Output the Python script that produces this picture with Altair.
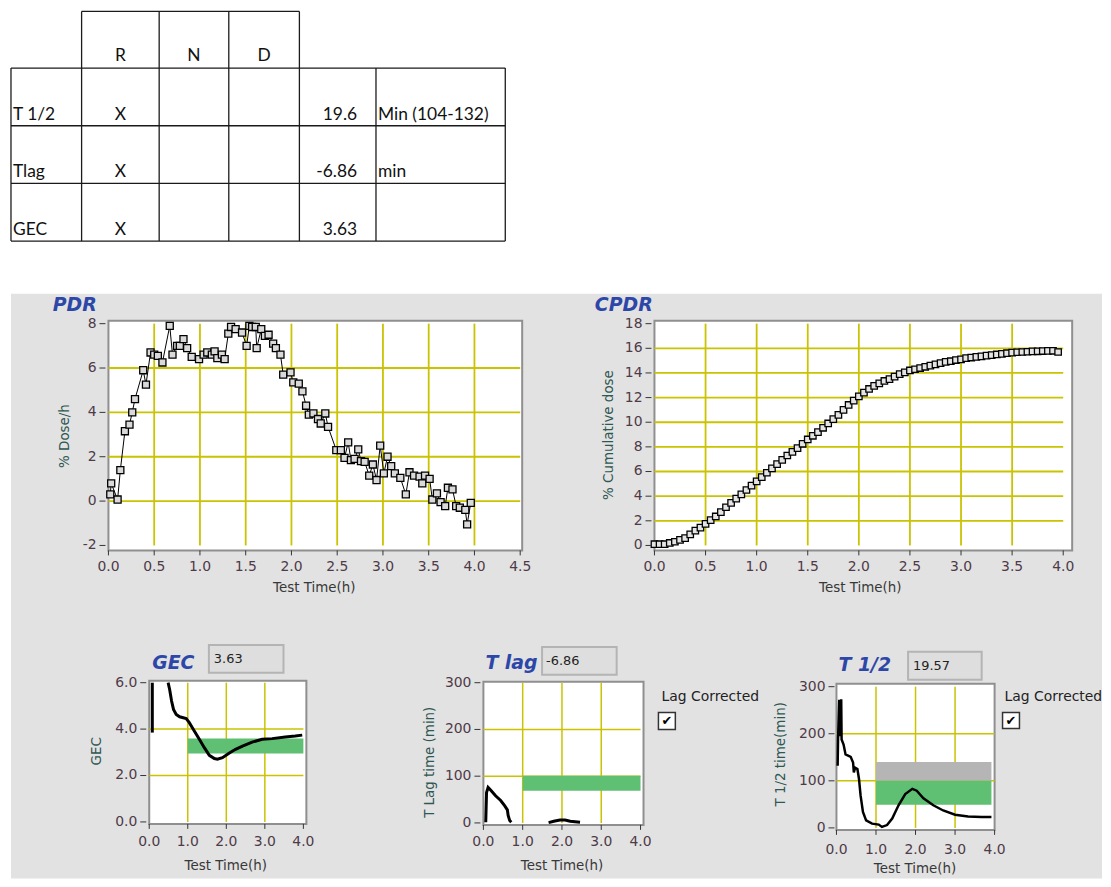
import altair as alt
import pandas as pd

# ---------------- data ----------------
table_cols = ["R", "N", "D"]
table_rows = ["T 1/2", "Tlag", "GEC"]
table_r = ["X", "X", "X"]
table_vals = ["19.6", "-6.86", "3.63"]
table_units = ["Min (104-132)", "min", ""]

pdr_t = [0.02, 0.03, 0.10, 0.13, 0.18, 0.23, 0.26, 0.29, 0.38, 0.41, 0.46, 0.50, 0.54, 0.59, 0.67,
         0.70, 0.75, 0.78, 0.82, 0.86, 0.91, 0.99, 1.04, 1.08, 1.13, 1.16, 1.19, 1.24, 1.27, 1.31,
         1.34, 1.39, 1.46, 1.51, 1.54, 1.57, 1.61, 1.62, 1.67, 1.71, 1.75, 1.80, 1.83, 1.88, 1.91,
         1.99, 2.02, 2.08, 2.12, 2.16, 2.19, 2.24, 2.29, 2.32, 2.37, 2.40, 2.49, 2.54, 2.58, 2.62,
         2.65, 2.69, 2.73, 2.76, 2.80, 2.85, 2.89, 2.93, 2.97, 3.01, 3.05, 3.09, 3.13, 3.19, 3.25,
         3.29, 3.34, 3.40, 3.43, 3.46, 3.51, 3.54, 3.59, 3.63, 3.68, 3.71, 3.76, 3.80, 3.84, 3.90,
         3.92, 3.96]
pdr_v = [0.3, 0.8, 0.07, 1.4, 3.15, 3.45, 4.0, 4.6, 5.9, 5.25, 6.7, 6.6, 6.55, 6.25, 7.9,
         6.6, 7.0, 7.0, 7.3, 6.9, 6.5, 6.4, 6.6, 6.7, 6.6, 6.75, 6.45, 6.6, 6.4, 7.55,
         7.85, 7.75, 7.6, 7.0, 7.9, 7.85, 7.85, 6.9, 7.75, 7.45, 7.5, 7.1, 6.9, 6.6, 5.7,
         5.8, 5.35, 5.3, 4.95, 4.3, 3.9, 3.95, 3.7, 3.5, 3.95, 3.35, 2.3, 2.3, 1.95, 2.65,
         1.85, 1.9, 2.33, 1.8, 1.77, 1.15, 1.65, 0.95, 2.5, 1.25, 2.0, 1.58, 1.25, 1.05, 0.3,
         1.3, 1.15, 1.1, 0.8, 1.15, 1.0, 0.07, 0.35, -0.05, -0.23, 0.6, 0.53, -0.23, -0.3, -0.4,
         -1.05, -0.08]

cpdr_t = [0.00, 0.05, 0.10, 0.15, 0.20, 0.25, 0.30, 0.35, 0.40, 0.45,
          0.50, 0.55, 0.60, 0.65, 0.70, 0.75, 0.80, 0.85, 0.90, 0.95,
          1.00, 1.05, 1.10, 1.15, 1.20, 1.25, 1.30, 1.35, 1.40, 1.45,
          1.50, 1.55, 1.60, 1.65, 1.70, 1.75, 1.80, 1.85, 1.90, 1.95,
          2.00, 2.05, 2.10, 2.15, 2.20, 2.25, 2.30, 2.35, 2.40, 2.45,
          2.50, 2.55, 2.60, 2.65, 2.70, 2.75, 2.80, 2.85, 2.90, 2.95,
          3.00, 3.05, 3.10, 3.15, 3.20, 3.25, 3.30, 3.35, 3.40, 3.45,
          3.50, 3.55, 3.60, 3.65, 3.70, 3.75, 3.80, 3.85, 3.90, 3.95]
cpdr_v = [0.1, 0.1, 0.1, 0.2, 0.3, 0.45, 0.6, 0.9, 1.2, 1.45,
          1.75, 2.05, 2.35, 2.7, 3.1, 3.45, 3.8, 4.15, 4.5, 4.85,
          5.2, 5.55, 5.9, 6.25, 6.6, 6.95, 7.3, 7.6, 7.9, 8.25,
          8.6, 8.9, 9.2, 9.55, 9.9, 10.25, 10.6, 11.0, 11.4, 11.75,
          12.1, 12.4, 12.7, 12.95, 13.15, 13.35, 13.5, 13.7, 13.9, 14.05,
          14.2, 14.3, 14.4, 14.5, 14.6, 14.7, 14.8, 14.9, 14.95, 15.05,
          15.1, 15.2, 15.25, 15.3, 15.35, 15.4, 15.45, 15.5, 15.55, 15.6,
          15.65, 15.68, 15.7, 15.72, 15.75, 15.76, 15.78, 15.79, 15.8, 15.7]

gec_t = [0.08, 0.08,
         0.49, 0.53, 0.58, 0.63, 0.70, 0.79, 0.96, 1.04, 1.17, 1.30, 1.43, 1.56, 1.69, 1.77,
         1.90, 2.07, 2.24, 2.42, 2.67, 2.93, 3.19, 3.53, 3.79, 3.97]
gec_v = [3.85, 6.0,
         6.0, 5.71, 5.21, 4.85, 4.63, 4.53, 4.45, 4.28, 3.92, 3.56, 3.2, 2.87, 2.73, 2.7,
         2.77, 2.96, 3.13, 3.27, 3.44, 3.56, 3.59, 3.66, 3.7, 3.74]
gec_seg = ["a", "a"] + ["b"] * 24
gec_band = {"x0": [1.0], "x1": [4.0], "y0": [2.95], "y1": [3.6]}
gec_value = "3.63"

tlag_t = [0.06, 0.08, 0.12, 0.20, 0.31, 0.44, 0.54, 0.61, 0.63, 0.67, 0.71,
          1.66, 1.79, 1.95, 2.08, 2.21, 2.46]
tlag_v = [1.4, 65, 76, 69, 58, 48, 37, 28, 16, 5, 1.4,
          0.7, 3.5, 6.4, 6.4, 3.5, 1.4]
tlag_seg = ["a"] * 11 + ["b"] * 6
tlag_band = {"x0": [1.0], "x1": [4.0], "y0": [69], "y1": [101]}
tlag_value = "-6.86"

thalf_t = [0.03, 0.04, 0.07, 0.09, 0.12, 0.13, 0.18, 0.23, 0.36, 0.42, 0.44, 0.47, 0.53, 0.57,
           0.61, 0.67, 0.75, 0.90, 1.07, 1.15, 1.28, 1.41, 1.57, 1.74, 1.92, 2.03, 2.20, 2.45,
           2.70, 3.00, 3.33, 3.67, 3.92]
thalf_v = [132, 188, 272, 195, 273, 188, 177, 156, 151, 139, 118, 128, 125, 104,
           69, 34, 16, 9, 7, 2, 6, 20, 48, 72, 83, 79, 63, 48,
           37, 28, 24, 23, 23]
thalf_gray = {"x0": [1.0], "x1": [3.92], "y0": [100], "y1": [140]}
thalf_green = {"x0": [1.0], "x1": [3.92], "y0": [49], "y1": [100]}
thalf_value = "19.57"

# tick labels
pdr_xticks = [0, 0.5, 1, 1.5, 2, 2.5, 3, 3.5, 4, 4.5]
pdr_yticks = [-2, 0, 2, 4, 6, 8]
cpdr_xticks = [0, 0.5, 1, 1.5, 2, 2.5, 3, 3.5, 4]
cpdr_yticks = [0, 2, 4, 6, 8, 10, 12, 14, 16, 18]
small_xticks = [0, 1, 2, 3, 4]
gec_yticks = [0, 2, 4, 6]
min_yticks = [0, 100, 200, 300]

# ---------------- style / layout ----------------
W, H = 1100, 872
FONT = "DejaVu Sans"
LAB = "#4f3a48"
YT = "#2f5753"
XT = "#383838"
GRID = "#c9c300"
BLUE = "#2d47a8"
GREEN = "#5fbf72"
BAND_GRAY = "#b5b5b5"
BGGRAY = "#e2e2e2"
TICKC = "#333333"

one = pd.DataFrame({"k": [0]})


def deco_rect(x0, x1, y0, y1, **kw):
    return alt.Chart(one).mark_rect(**kw).encode(
        x=alt.value(x0), x2=alt.value(x1), y=alt.value(y0), y2=alt.value(y1))


def deco_text(x, y, s, **kw):
    return alt.Chart(one).mark_text(**kw).encode(
        x=alt.value(x), y=alt.value(y), text=alt.value(s))


def panel(xdom, xrng, ydom, yrng, xticks, yticks, xfmt, yfmt, xgrid, ygrid,
          frame, yaxis_x, xlab_dy, xtitle, ytitle, ytitle_txt, gw, bands, data_fn):
    xs = alt.Scale(domain=xdom, range=xrng, nice=False, zero=False)
    ys = alt.Scale(domain=ydom, range=yrng, nice=False, zero=False)
    fx0, fx1, fy0, fy1 = frame
    X = lambda f: alt.X(f, scale=xs, axis=None)
    Y = lambda f: alt.Y(f, scale=ys, axis=None)

    layers = [deco_rect(fx0, fx1, fy0, fy1, fill="white", stroke="#8f8f8f", strokeWidth=2)]
    vg = pd.DataFrame({"gx": xgrid, "gy0": [ydom[0]] * len(xgrid), "gy1": [ydom[1]] * len(xgrid)})
    hg = pd.DataFrame({"gy": ygrid, "gx0": [xdom[0]] * len(ygrid), "gx1": [xdom[1]] * len(ygrid)})
    layers.append(alt.Chart(vg).mark_rule(color=GRID, strokeWidth=gw).encode(
        x=X("gx:Q"), y=Y("gy0:Q"), y2="gy1:Q"))
    layers.append(alt.Chart(hg).mark_rule(color=GRID, strokeWidth=gw).encode(
        y=Y("gy:Q"), x=X("gx0:Q"), x2="gx1:Q"))
    for bd, col in bands:
        layers.append(alt.Chart(pd.DataFrame(bd)).mark_rect(color=col, opacity=1).encode(
            x=X("x0:Q"), x2="x1:Q", y=Y("y0:Q"), y2="y1:Q"))
    layers += data_fn(X, Y)

    # x axis: ticks + labels
    xt = pd.DataFrame({"v": xticks, "lbl": [format(v, xfmt) for v in xticks],
                       "b": [ydom[0]] * len(xticks)})
    off = fy1 - yrng[0]
    layers.append(alt.Chart(xt).mark_rule(color=TICKC, strokeWidth=1, yOffset=off,
                                          y2Offset=off + 5).encode(
        x=X("v:Q"), y=Y("b:Q"), y2="b:Q"))
    layers.append(alt.Chart(xt).mark_text(font=FONT, fontSize=14, color=LAB, align="center",
                                          baseline="middle", dy=off + xlab_dy).encode(
        x=X("v:Q"), y=Y("b:Q"), text="lbl:N"))
    # y axis: ticks + labels
    yt = pd.DataFrame({"v": yticks, "lbl": [format(v, yfmt) for v in yticks],
                       "b": [xdom[0]] * len(yticks)})
    xo = yaxis_x - xrng[0]
    layers.append(alt.Chart(yt).mark_rule(color=TICKC, strokeWidth=1, xOffset=xo - 6,
                                          x2Offset=xo).encode(
        y=Y("v:Q"), x=X("b:Q"), x2="b:Q"))
    layers.append(alt.Chart(yt).mark_text(font=FONT, fontSize=14, color=LAB, align="right",
                                          baseline="middle", dx=xo - 9).encode(
        y=Y("v:Q"), x=X("b:Q"), text="lbl:N"))
    # axis titles
    layers.append(deco_text(xtitle[0], xtitle[1], "Test Time(h)", font=FONT, fontSize=13.5,
                            color=XT, align="center", baseline="middle"))
    layers.append(deco_text(ytitle[0], ytitle[1], ytitle_txt, font=FONT, fontSize=13.5,
                            color=YT, align="center", baseline="middle", angle=270))
    return alt.layer(*layers)


# ---- PDR ----
def pdr_layers(X, Y):
    df = pd.DataFrame({"t": pdr_t, "v": pdr_v})
    line = alt.Chart(df).mark_line(color="black", strokeWidth=1).encode(x=X("t:Q"), y=Y("v:Q"))
    pts = alt.Chart(df).mark_point(shape="square", filled=True, fill="#d9d9d9", stroke="black",
                                   strokeWidth=1.3, size=50, opacity=1).encode(
        x=X("t:Q"), y=Y("v:Q"))
    return [line, pts]


pdr = panel([0, 4.5], [101, 515], [-2, 8], [537, 314], pdr_xticks, pdr_yticks, ".1f", "d",
            [0.5, 1, 1.5, 2, 2.5, 3, 3.5, 4], [0, 2, 4, 6],
            (101, 517, 311, 542), 98, 17, (308, 580), (57, 427), "% Dose/h", 1.8, [], pdr_layers)


# ---- CPDR ----
def cpdr_layers(X, Y):
    df = pd.DataFrame({"t": cpdr_t, "v": cpdr_v})
    line = alt.Chart(df).mark_line(color="#e03a3a", strokeWidth=1).encode(x=X("t:Q"), y=Y("v:Q"))
    pts = alt.Chart(df).mark_point(shape="square", filled=True, fill="#e4e4e4", stroke="black",
                                   strokeWidth=1.3, size=42, opacity=1).encode(
        x=X("t:Q"), y=Y("v:Q"))
    return [line, pts]


cpdr = panel([0, 4], [650, 1061], [0, 18], [537, 314], cpdr_xticks, cpdr_yticks, ".1f", "d",
             [0.5, 1, 1.5, 2, 2.5, 3, 3.5], [2, 4, 6, 8, 10, 12, 14, 16],
             (650, 1070, 311, 542), 647, 17, (857, 580), (604, 426), "% Cumulative dose", 1.8,
             [], cpdr_layers)


# ---- GEC ----
def gec_layers(X, Y):
    df = pd.DataFrame({"t": gec_t, "v": gec_v, "s": gec_seg})
    return [alt.Chart(df).mark_line(color="black", strokeWidth=3).encode(
        x=X("t:Q"), y=Y("v:Q"), detail="s:N")]


gec = panel([0, 4], [142, 297], [0, 6], [815, 675], small_xticks, gec_yticks, ".1f", ".1f",
            [1, 2, 3], [2, 4],
            (142, 300, 673, 817), 139, 18, (219, 859), (90, 744), "GEC", 1.5,
            [(gec_band, GREEN)], gec_layers)


# ---- T lag ----
def tlag_layers(X, Y):
    df = pd.DataFrame({"t": tlag_t, "v": tlag_v, "s": tlag_seg})
    return [alt.Chart(df).mark_line(color="black", strokeWidth=3).encode(
        x=X("t:Q"), y=Y("v:Q"), detail="s:N")]


tlag = panel([0, 4], [478, 636], [0, 300], [816, 675], small_xticks, min_yticks, ".1f", "d",
             [1, 2, 3], [100, 200],
             (478, 639, 674, 818), 475, 17, (557, 859), (424, 755), "T Lag time (min)", 1.5,
             [(tlag_band, GREEN)], tlag_layers)


# ---- T 1/2 ----
def thalf_layers(X, Y):
    df = pd.DataFrame({"t": thalf_t, "v": thalf_v})
    return [alt.Chart(df).mark_line(color="black", strokeWidth=2.5).encode(
        x=X("t:Q"), y=Y("v:Q"))]


thalf = panel([0, 4], [833, 992], [0, 300], [821, 679], small_xticks, min_yticks, ".1f", "d",
              [1, 2, 3], [100, 200],
              (833, 992, 676, 823), 831, 20, (912, 862), (777, 747), "T 1/2 time(min)", 1.5,
              [(thalf_gray, BAND_GRAY), (thalf_green, GREEN)], thalf_layers)

# ---------------- table ----------------
col_edges = [3, 74, 152, 222, 293, 370, 500]
row_edges = [0, 57, 115, 173, 231]
px = alt.Scale(domain=[0, W], range=[0, W], nice=False, zero=False)
py = alt.Scale(domain=[0, H], range=[0, H], nice=False, zero=False)

segs = []
segs.append((col_edges[1], col_edges[4], row_edges[0], row_edges[0]))
for cx in col_edges[1:5]:
    segs.append((cx, cx, row_edges[0], row_edges[1]))
for ry in row_edges[1:]:
    segs.append((col_edges[0], col_edges[-1], ry, ry))
for cx in col_edges:
    segs.append((cx, cx, row_edges[1], row_edges[-1]))
seg_df = pd.DataFrame(segs, columns=["x0", "x1", "y0", "y1"])
table_lines = alt.Chart(seg_df).mark_rule(color="#1a1a1a", strokeWidth=1.3).encode(
    x=alt.X("x0:Q", scale=px, axis=None), x2="x1:Q",
    y=alt.Y("y0:Q", scale=py, axis=None), y2="y1:Q")

row_y = [row_edges[i + 2] - 11 for i in range(3)]
centers = [(col_edges[i] + col_edges[i + 1]) / 2 for i in range(6)]
center_txt = pd.DataFrame({
    "s": table_cols + table_r,
    "x": centers[1:4] + [centers[1]] * 3,
    "y": [row_edges[1] - 12] * 3 + row_y})
left_txt = pd.DataFrame({
    "s": table_rows + table_units,
    "x": [col_edges[0] + 2] * 3 + [col_edges[5] + 2] * 3,
    "y": row_y + row_y})
right_txt = pd.DataFrame({"s": table_vals, "x": [col_edges[5] - 19] * 3, "y": row_y})


def table_text(df, align):
    return alt.Chart(df).mark_text(align=align, baseline="middle", font="Lato", fontSize=17.5,
                                   color="#111").encode(
        x=alt.X("x:Q", scale=px, axis=None), y=alt.Y("y:Q", scale=py, axis=None), text="s:N")


table = alt.layer(table_lines, table_text(center_txt, "center"), table_text(left_txt, "left"),
                  table_text(right_txt, "right"))

# ---------------- decorations ----------------
title_kw = dict(font=FONT, fontSize=19, fontStyle="italic", fontWeight="bold", color=BLUE,
                align="left", baseline="middle")
box_kw = dict(fill="#dedede", stroke="#b4b4b4", strokeWidth=2)
val_kw = dict(font=FONT, fontSize=13, color="#222", align="left", baseline="middle")
lag_kw = dict(font=FONT, fontSize=14, color="#222", align="left", baseline="middle")
chk_kw = dict(fill="white", stroke="#333", strokeWidth=1.5)
tick_kw = dict(font=FONT, fontSize=13, color="black", align="center", baseline="middle")

decos = [
    deco_text(45, 295, "PDR", **title_kw),
    deco_text(590, 295, "CPDR", **title_kw),
    deco_text(145, 655, "GEC", **title_kw),
    deco_text(480, 655, "T lag", **title_kw),
    deco_text(835, 657, "T 1/2", **title_kw),
    deco_rect(202, 277, 637, 665, **box_kw), deco_text(207, 651, gec_value, **val_kw),
    deco_rect(537, 612, 639, 667, **box_kw), deco_text(541, 653, tlag_value, **val_kw),
    deco_rect(905, 979, 644, 672, **box_kw), deco_text(910, 658, thalf_value, **val_kw),
    deco_text(657, 689, "Lag Corrected", **lag_kw),
    deco_text(1002, 689, "Lag Corrected", **lag_kw),
    deco_rect(654, 671, 705, 722, **chk_kw), deco_text(662.5, 714, "\u2714", **tick_kw),
    deco_rect(1000, 1017, 705, 721, **chk_kw), deco_text(1008.5, 713.5, "\u2714", **tick_kw),
]

bg = deco_rect(3, W, 284, H, fill=BGGRAY)

chart = alt.layer(bg, table, pdr, cpdr, gec, tlag, thalf, *decos).resolve_scale(
    x="independent", y="independent"
).properties(width=W, height=H, padding=0, background="white").configure_view(stroke=None)

chart.save("out.html", embed_options={"renderer": "svg", "actions": False})
